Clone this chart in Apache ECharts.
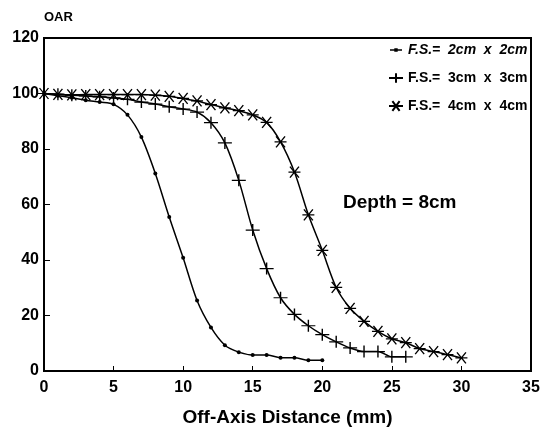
<!DOCTYPE html>
<html>
<head>
<meta charset="utf-8">
<script src="https://cdn.jsdelivr.net/npm/echarts@6/dist/echarts.min.js"></script>
<style>
  html, body { margin: 0; padding: 0; background: #fff; }
  #chart { width: 551px; height: 434px; }
</style>
</head>
<body>
<div id="chart"></div>
<script>
// x ticks and y ticks
const xTicks = [0, 5, 10, 15, 20, 25, 30, 35];
const yTicks = [0, 20, 40, 60, 80, 100, 120];

// off-axis distance (mm) for each field size
const fs2X = [0, 1, 2, 3, 4, 5, 6, 7, 8, 9, 10, 11, 12, 13, 14, 15, 16, 17, 18, 19, 20];
const fs2Y = [100, 99.2, 98.5, 97.6, 96.9, 96.1, 92.3, 84.3, 71.2, 55.5, 40.8, 25.4, 15.7, 9.3, 6.8, 5.8, 5.8, 4.8, 4.8, 3.9, 3.9];

const fs3X = [0, 1, 2, 3, 4, 5, 6, 7, 8, 9, 10, 11, 12, 13, 14, 15, 16, 17, 18, 19, 20, 21, 22, 23, 24, 25, 26];
const fs3Y = [100, 99.7, 99.4, 99.1, 98.8, 98.4, 97.9, 96.9, 96.2, 95.2, 94.4, 93.3, 89.5, 82.2, 68.7, 50.8, 36.9, 26.4, 20.4, 16.3, 13.1, 10.5, 8.3, 7.0, 7.0, 5.1, 5.1];

const fs4X = [0, 1, 2, 3, 4, 5, 6, 7, 8, 9, 10, 11, 12, 13, 14, 15, 16, 17, 18, 19, 20, 21, 22, 23, 24, 25, 26, 27, 28, 29, 30];
const fs4Y = [100, 99.7, 99.5, 99.6, 99.6, 99.6, 99.6, 99.6, 99.4, 99, 98.2, 97.3, 96, 94.8, 93.8, 92.3, 89.6, 82.6, 71.7, 56.3, 43.5, 30.1, 22.6, 17.9, 14.3, 11.6, 10.2, 8.1, 7.0, 5.9, 4.7];

const seriesNames = ['F.S.=  2cm  x  2cm', 'F.S.=  3cm  x  3cm', 'F.S.=  4cm  x  4cm'];

const pairs = (xs, ys) => xs.map((x, i) => [x, ys[i]]);

// marker shapes
const plusPath = 'path://M0,6H12M6,0V12';
const starPath = 'path://M0,6H12M1.5,0.8L10.5,11.2M10.5,0.8L1.5,11.2';
// legend icon for the dot series: short line with a dot
const dotLineIcon = 'path://M0,0L0.01,0Z M0,12L0.01,12Z M0,5.3H12V6.7H0Z M4.3,4.3H7.7V7.7H4.3Z';

const font = 'Liberation Sans, Arial, sans-serif';
const chart = echarts.init(document.getElementById('chart'));

const lineBase = {
  type: 'line',
  smooth: 0.3,
  lineStyle: { color: '#000', width: 1.5 },
  itemStyle: { color: '#000', borderColor: '#000', borderWidth: 1.3 },
  showAllSymbol: true,
  z: 3,
};

chart.setOption({
  animation: false,
  backgroundColor: '#fff',
  grid: {
    left: 44, right: 20, top: 38, bottom: 63,
    show: true, borderColor: '#000', borderWidth: 2,
  },
  legend: {
    orient: 'vertical',
    left: 388,
    top: 43,
    padding: 0,
    itemWidth: 14,
    itemHeight: 12,
    itemGap: 14,
    textStyle: { fontFamily: font, fontWeight: 'bold', fontSize: 14, color: '#000' },
    data: [
      { name: seriesNames[0], icon: dotLineIcon, textStyle: { fontStyle: 'italic' } },
      { name: seriesNames[1] },
      { name: seriesNames[2] },
    ],
  },
  xAxis: {
    type: 'value',
    min: 0, max: 35, interval: 5,
    name: 'Off-Axis Distance (mm)',
    nameLocation: 'middle',
    nameGap: 37,
    nameTextStyle: { fontFamily: font, fontWeight: 'bold', fontSize: 19, color: '#000' },
    axisLine: { lineStyle: { color: '#000', width: 2 } },
    axisTick: { inside: true, length: 5, lineStyle: { color: '#000', width: 1 } },
    axisLabel: {
      margin: 9, color: '#000', fontFamily: font, fontWeight: 'bold', fontSize: 16,
      formatter: v => xTicks.includes(v) ? String(v) : '',
    },
    splitLine: { show: false },
  },
  yAxis: {
    type: 'value',
    min: 0, max: 120, interval: 20,
    name: 'OAR',
    nameLocation: 'end',
    nameGap: 14,
    nameTextStyle: { fontFamily: font, fontWeight: 'bold', fontSize: 13, color: '#000', align: 'left' },
    axisLine: { lineStyle: { color: '#000', width: 2 } },
    axisTick: { inside: true, length: 6, lineStyle: { color: '#000', width: 1 } },
    axisLabel: {
      margin: 5, color: '#000', fontFamily: font, fontWeight: 'bold', fontSize: 16,
      formatter: v => yTicks.includes(v) ? String(v) : '',
    },
    splitLine: { show: false },
  },
  graphic: [{
    type: 'text',
    left: 343, top: 193,
    style: { text: 'Depth = 8cm', fill: '#000', font: 'bold 19px ' + font },
  }],
  series: [
    Object.assign({}, lineBase, {
      name: seriesNames[0],
      data: pairs(fs2X, fs2Y),
      symbol: 'circle', symbolSize: 4,
      itemStyle: { color: '#000' },
    }),
    Object.assign({}, lineBase, {
      name: seriesNames[1],
      data: pairs(fs3X, fs3Y),
      symbol: plusPath, symbolSize: [14, 12],
    }),
    Object.assign({}, lineBase, {
      name: seriesNames[2],
      data: pairs(fs4X, fs4Y),
      symbol: starPath, symbolSize: [12, 11],
    }),
  ],
});
</script>
</body>
</html>
